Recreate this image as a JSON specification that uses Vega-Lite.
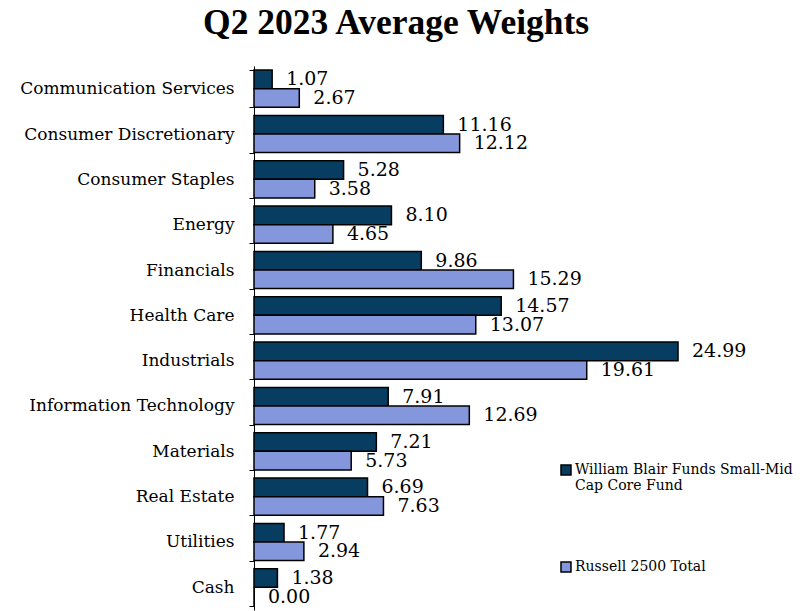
{
  "$schema": "https://vega.github.io/schema/vega-lite/v6.json",
  "width": 424.2,
  "height": 544,
  "autosize": "none",
  "padding": {"left": 254, "top": 66, "right": 127, "bottom": 1},
  "background": "white",
  "title": {
    "text": "Q2 2023 Average Weights",
    "font": "Liberation Serif",
    "fontSize": 35.5,
    "fontWeight": "bold",
    "color": "black",
    "anchor": "middle",
    "dx": -70,
    "offset": 16
  },
  "config": {
    "view": {"stroke": null},
    "font": "DejaVu Serif"
  },
  "data": {
    "values": [
      {"sector": "Communication Services", "series": "William Blair Funds Small-Mid Cap Core Fund", "value": 1.07},
      {"sector": "Communication Services", "series": "Russell 2500 Total", "value": 2.67},
      {"sector": "Consumer Discretionary", "series": "William Blair Funds Small-Mid Cap Core Fund", "value": 11.16},
      {"sector": "Consumer Discretionary", "series": "Russell 2500 Total", "value": 12.12},
      {"sector": "Consumer Staples", "series": "William Blair Funds Small-Mid Cap Core Fund", "value": 5.28},
      {"sector": "Consumer Staples", "series": "Russell 2500 Total", "value": 3.58},
      {"sector": "Energy", "series": "William Blair Funds Small-Mid Cap Core Fund", "value": 8.10},
      {"sector": "Energy", "series": "Russell 2500 Total", "value": 4.65},
      {"sector": "Financials", "series": "William Blair Funds Small-Mid Cap Core Fund", "value": 9.86},
      {"sector": "Financials", "series": "Russell 2500 Total", "value": 15.29},
      {"sector": "Health Care", "series": "William Blair Funds Small-Mid Cap Core Fund", "value": 14.57},
      {"sector": "Health Care", "series": "Russell 2500 Total", "value": 13.07},
      {"sector": "Industrials", "series": "William Blair Funds Small-Mid Cap Core Fund", "value": 24.99},
      {"sector": "Industrials", "series": "Russell 2500 Total", "value": 19.61},
      {"sector": "Information Technology", "series": "William Blair Funds Small-Mid Cap Core Fund", "value": 7.91},
      {"sector": "Information Technology", "series": "Russell 2500 Total", "value": 12.69},
      {"sector": "Materials", "series": "William Blair Funds Small-Mid Cap Core Fund", "value": 7.21},
      {"sector": "Materials", "series": "Russell 2500 Total", "value": 5.73},
      {"sector": "Real Estate", "series": "William Blair Funds Small-Mid Cap Core Fund", "value": 6.69},
      {"sector": "Real Estate", "series": "Russell 2500 Total", "value": 7.63},
      {"sector": "Utilities", "series": "William Blair Funds Small-Mid Cap Core Fund", "value": 1.77},
      {"sector": "Utilities", "series": "Russell 2500 Total", "value": 2.94},
      {"sector": "Cash", "series": "William Blair Funds Small-Mid Cap Core Fund", "value": 1.38},
      {"sector": "Cash", "series": "Russell 2500 Total", "value": 0.00}
    ]
  },
  "encoding": {
    "y": {
      "field": "sector",
      "type": "nominal",
      "sort": null,
      "scale": {"paddingInner": 0.18, "paddingOuter": 0.09},
      "axis": {
        "title": null,
        "domainColor": "black",
        "domainWidth": 1,
        "tickColor": "black",
        "tickSize": 5,
        "tickBand": "extent",
        "labelFont": "DejaVu Serif",
        "labelFontSize": 17,
        "labelColor": "black",
        "labelPadding": 15,
        "labelLimit": 300
      }
    },
    "yOffset": {
      "field": "series",
      "type": "nominal",
      "sort": ["William Blair Funds Small-Mid Cap Core Fund", "Russell 2500 Total"]
    },
    "x": {
      "field": "value",
      "type": "quantitative",
      "scale": {"domain": [0, 25], "nice": false},
      "axis": null
    }
  },
  "layer": [
    {
      "mark": {"type": "bar", "stroke": "black", "strokeWidth": 1.5, "clip": false},
      "encoding": {
        "color": {
          "field": "series",
          "type": "nominal",
          "sort": ["William Blair Funds Small-Mid Cap Core Fund", "Russell 2500 Total"],
          "scale": {"range": ["#063d60", "#8597dc"]},
          "legend": {
            "title": null,
            "orient": "none",
            "legendX": 305,
            "legendY": 397,
            "symbolType": "square",
            "symbolSize": 100,
            "symbolStrokeColor": "black",
            "symbolStrokeWidth": 1.5,
            "labelFont": "DejaVu Serif",
            "labelFontSize": 14,
            "labelColor": "black",
            "labelLimit": 300,
            "labelOffset": 2,
            "rowPadding": 66,
            "labelExpr": "datum.label == 'William Blair Funds Small-Mid Cap Core Fund' ? ['William Blair Funds Small-Mid', 'Cap Core Fund'] : datum.label"
          }
        }
      }
    },
    {
      "mark": {"type": "text", "align": "left", "baseline": "middle", "dx": 14, "fontSize": 19, "font": "DejaVu Serif", "color": "black", "clip": false},
      "encoding": {
        "text": {"field": "value", "type": "quantitative", "format": ".2f"}
      }
    }
  ]
}
